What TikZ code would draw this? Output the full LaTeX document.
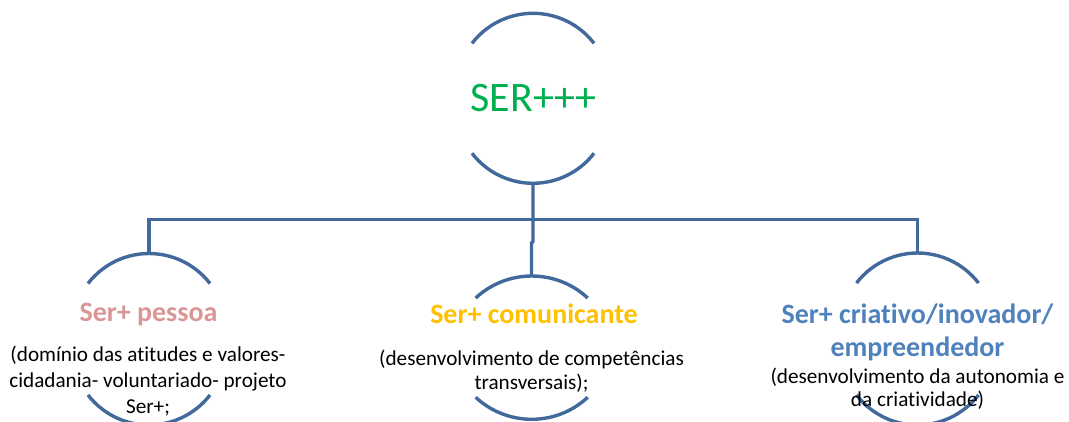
\documentclass[tikz,border=0pt]{standalone}
\usepackage{fontspec}
\setmainfont{Carlito}[Ligatures=NoCommon]
\definecolor{linec}{HTML}{41699C}
\definecolor{rootc}{HTML}{00B050}
\definecolor{pinkc}{HTML}{D99694}
\definecolor{orangec}{HTML}{FFC000}
\definecolor{bluec}{HTML}{4F81BD}
\begin{document}
\begin{tikzpicture}[x=1pt,y=-1pt,
  arcline/.style={draw=linec, line width=3.4pt},
  conn/.style={draw=linec, line width=3.4pt, line join=miter},
  rootlbl/.style={font=\fontsize{42}{50}\selectfont, text=rootc, anchor=base, inner sep=0pt},
  titlelbl/.style={font=\fontsize{28}{33.7}\selectfont\bfseries, anchor=base, align=center, inner sep=0pt},
  bodylbl/.style={anchor=base, align=center, inner sep=0pt, text=black}]
\useasboundingbox (0,0) rectangle (1069,421);
\clip (0,0) rectangle (1069,421);
% root circle arcs
\draw[arcline] (533,90.3) ++(142.4:77pt) arc[start angle=142.4, end angle=37.6, radius=77pt];
\draw[arcline] (533,106.3) ++(217.6:77pt) arc[start angle=217.6, end angle=322.4, radius=77pt];
% left circle arcs
\draw[arcline] (149,330.5) ++(142.4:77pt) arc[start angle=142.4, end angle=37.6, radius=77pt];
\draw[arcline] (149,348) ++(217.6:77pt) arc[start angle=217.6, end angle=322.4, radius=77pt];
% middle circle arcs
\draw[arcline] (531.7,358.3) ++(132.9:82.3pt) arc[start angle=132.9, end angle=47.1, radius=82.3pt];
\draw[arcline] (531.7,337) ++(227.1:82.3pt) arc[start angle=227.1, end angle=312.9, radius=82.3pt];
% right circle arcs
\draw[arcline] (917.5,330) ++(142.4:77pt) arc[start angle=142.4, end angle=37.6, radius=77pt];
\draw[arcline] (917.5,348) ++(217.6:77pt) arc[start angle=217.6, end angle=322.4, radius=77pt];
% connector points
\coordinate (rootB) at (533,183.3);
\coordinate (barC) at (533,219.3);
\coordinate (barL) at (149,219.3);
\coordinate (barR) at (917.5,219.3);
\coordinate (leftT) at (149,253.5);
\coordinate (rightT) at (917.5,253);
\coordinate (kinkA) at (533,241.5);
\coordinate (kinkB) at (531.5,243);
\coordinate (midT) at (531.5,276);
\draw[conn] (leftT) -- (barL) -- (barR) -- (rightT);
\draw[conn] (rootB) -- (barC) -- (kinkA) -- (kinkB) -- (midT);
% texts (base anchor = baseline of the last line)
\node[rootlbl] (root) at (533.5,111.7) {SER+++};
\node[titlelbl, text=pinkc] (t1) at (148.5,321.7) {Ser+ pessoa};
\node[bodylbl, font=\fontsize{21.2}{26}\selectfont] (b1) at (148,413.5) {(domínio das atitudes e valores-\\cidadania- voluntariado- projeto\\Ser+;};
\node[titlelbl, text=orangec] (t2) at (534,323.3) {Ser+ comunicante};
\node[bodylbl, font=\fontsize{21.2}{24}\selectfont] (b2) at (531.5,389) {(desenvolvimento de competências\\transversais);};
\node[titlelbl, text=bluec] (t3) at (917.5,356.7) {Ser+ criativo/inovador/\\empreendedor};
\node[bodylbl, font=\fontsize{21.2}{23.4}\selectfont] (b3) at (917.5,406.7) {(desenvolvimento da autonomia e\\da criatividade)};
\end{tikzpicture}
\end{document}
